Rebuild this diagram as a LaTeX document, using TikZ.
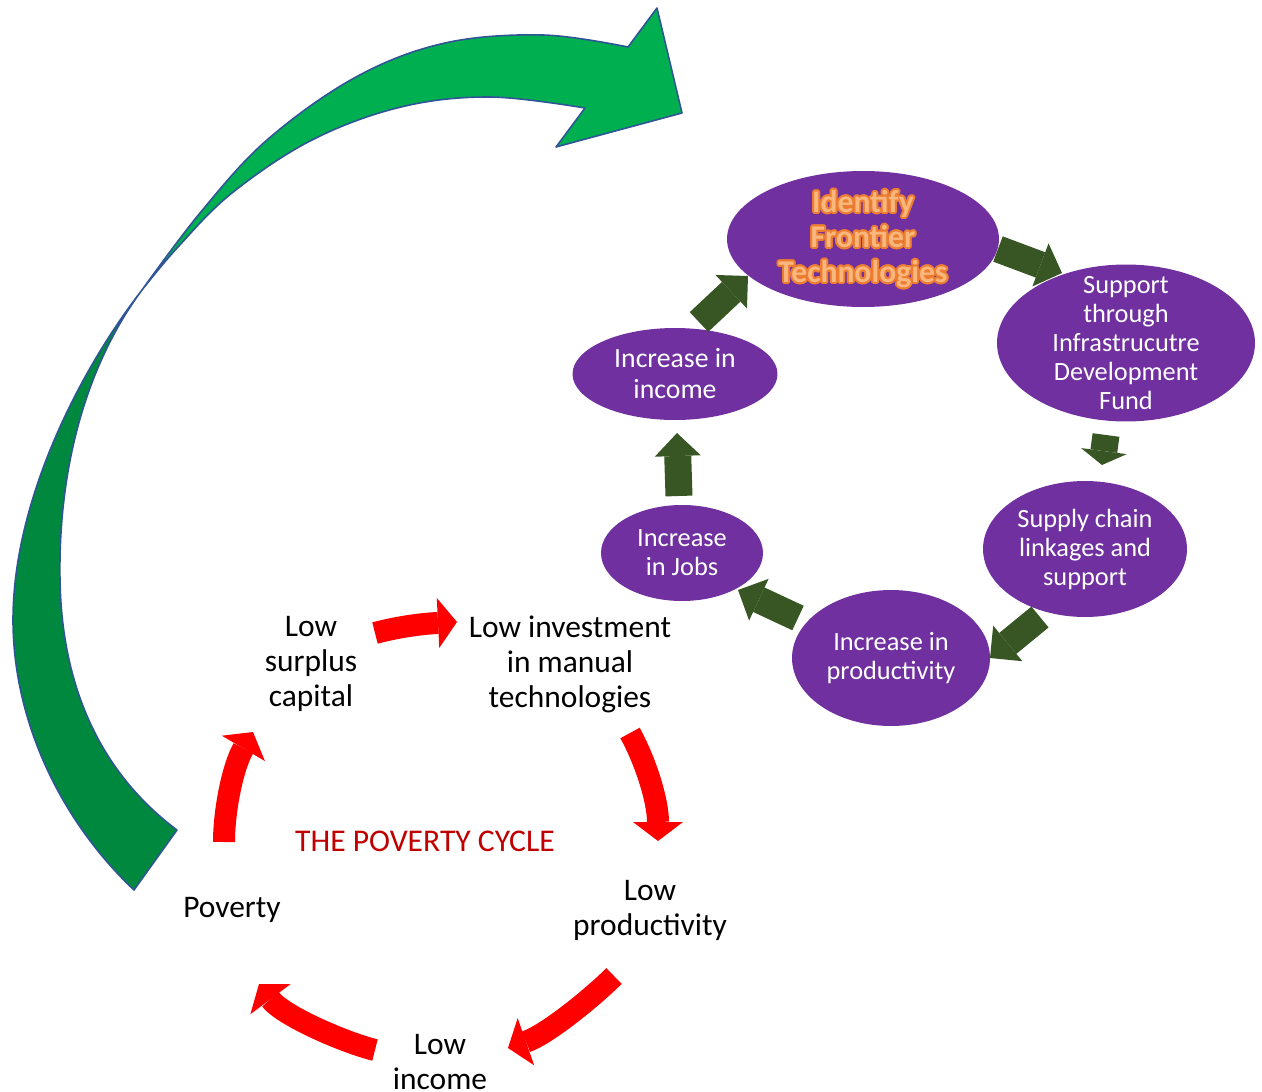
\documentclass[tikz,border=0pt]{standalone}
\usepackage{fontspec}
\setmainfont{Carlito}
\usepackage{contour}
\usetikzlibrary{arrows.meta,shapes.geometric}
\definecolor{purp}{HTML}{7030A0}
\definecolor{dgreen}{HTML}{375623}
\definecolor{bgreen}{HTML}{00B050}
\definecolor{lgreen}{HTML}{00893E}
\definecolor{edgeblue}{HTML}{2F5597}
\definecolor{redtitle}{HTML}{C00000}
\definecolor{idfill}{HTML}{F9B77E}
\definecolor{idedge}{HTML}{ED7D31}
\contourlength{1.1pt}
\begin{document}
\begin{tikzpicture}[x=0.02cm,y=-0.02cm,
  pnode/.style={ellipse, fill=purp, inner sep=0pt},
  ptext/.style={text=white, align=center, inner sep=0pt, font=\fontsize{15}{16.5}\selectfont},
  btext/.style={align=center, inner sep=0pt, font=\fontsize{17.9}{19.9}\selectfont},
  redarr/.style={draw=red, line width=0.44cm, -{Triangle[length=0.38cm, width=1cm, line width=0pt]}},
  darr/.style={draw=dgreen, line width=0.54cm, -{Triangle[length=0.46cm, width=0.92cm, line width=0pt]}},
  bigarrow/.style={draw=edgeblue, line width=0.9pt, line join=round}
]
\useasboundingbox (0,0) rectangle (1262,1092);

% big green arrow: lower (dark) part
\filldraw[bigarrow, fill=lgreen]
  (134,890) .. controls (60,820) and (13,720) .. (13,620)
  .. controls (13,500) and (80,370) .. (142,290)
  .. controls (90,360) and (58,460) .. (60,580)
  .. controls (62,700) and (110,780) .. (177,830)
  -- cycle;
% big green arrow: upper (bright) part with head
\filldraw[bigarrow, fill=bgreen]
  plot[smooth, tension=0.6] coordinates {(142,290) (200,213) (267,140) (356,77) (445,43) (543,35) (628,47)}
  -- (657,8) -- (682,113) -- (556,147)
  -- plot[smooth, tension=0.6] coordinates {(585,108) (490,97) (401,107) (312,140) (232,193) (178,247) (142,290)}
  -- cycle;

% purple ellipses
\node[pnode, minimum width=5.44cm, minimum height=2.72cm] (ident) at (863,239) {};
\node[pnode, minimum width=5.16cm, minimum height=3.14cm] (supp) at (1126,343) {};
\node[pnode, minimum width=4.08cm, minimum height=2.72cm] (chain) at (1085,549) {};
\node[pnode, minimum width=3.96cm, minimum height=2.72cm] (prod) at (891,658) {};
\node[pnode, minimum width=3.24cm, minimum height=1.92cm] (jobs) at (682,553) {};
\node[pnode, minimum width=4.10cm, minimum height=1.84cm] (inc) at (675,374) {};

\node[align=center, inner sep=0pt, font=\bfseries\fontsize{18}{19.9}\selectfont] (identt) at (863,240)
  {\contour{idedge}{\textcolor{idfill}{Identify}}\\\contour{idedge}{\textcolor{idfill}{Frontier}}\\\contour{idedge}{\textcolor{idfill}{Technologies}}};
\node[ptext] (suppt) at (supp) {Support\\through\\Infrastrucutre\\Development\\Fund};
\node[ptext] (chaint) at (chain) {Supply chain\\linkages and\\support};
\node[ptext] (prodt) at (prod) {Increase in\\productivity};
\node[ptext] (jobst) at (jobs) {Increase\\in Jobs};
\node[ptext, font=\fontsize{15.8}{17.6}\selectfont] (inct) at (inc) {Increase in\\income};

% dark green block arrows
\coordinate (g1s) at (699,322); \coordinate (g1e) at (748,276);
\coordinate (g2s) at (998,249); \coordinate (g2e) at (1062,273);
\coordinate (g3s) at (1106,435); \coordinate (g3e) at (1102,465);
\coordinate (g4s) at (1040,617); \coordinate (g4e) at (990,658);
\coordinate (g5s) at (798,618); \coordinate (g5e) at (738,590);
\coordinate (g6s) at (679,496); \coordinate (g6e) at (677,433);
\draw[darr] (g1s) -- (g1e);
\draw[darr] (g2s) -- (g2e);
\draw[darr, -{Triangle[length=0.28cm, width=0.92cm, line width=0pt]}] (g3s) -- (g3e);
\draw[darr] (g4s) -- (g4e);
\draw[darr] (g5s) -- (g5e);
\draw[darr] (g6s) -- (g6e);

% poverty cycle texts
\node[btext] (surplus) at (311,664) {Low\\surplus\\capital};
\node[btext] (invest) at (570,664) {Low investment\\in manual\\technologies};
\node[btext] (lowprod) at (650,910) {Low\\productivity};
\node[btext] (lowinc) at (440,1062) {Low\\income};
\node[btext] (poverty) at (232,910) {Poverty};
\node[btext, text=redtitle, font=\fontsize{18}{20}\selectfont] (title) at (425,841) {THE POVERTY CYCLE};

% red curved arrows
\coordinate (r1s) at (375,633); \coordinate (r1e) at (457,622);
\coordinate (r2s) at (630,733); \coordinate (r2e) at (658,841);
\coordinate (r3s) at (614,976); \coordinate (r3e) at (508,1048);
\coordinate (r4s) at (375,1050); \coordinate (r4e) at (259,984);
\coordinate (r5s) at (224,842); \coordinate (r5e) at (253,732);
\draw[redarr] (r1s) .. controls (394,628) and (417,624) .. (r1e);
\draw[redarr] (r2s) .. controls (645,760) and (658,800) .. (r2e);
\draw[redarr] (r3s) .. controls (594,996) and (548,1034) .. (r3e);
\draw[redarr] (r4s) .. controls (346,1043) and (283,1016) .. (r4e);
\draw[redarr] (r5s) .. controls (224,810) and (233,766) .. (r5e);
\end{tikzpicture}
\end{document}
